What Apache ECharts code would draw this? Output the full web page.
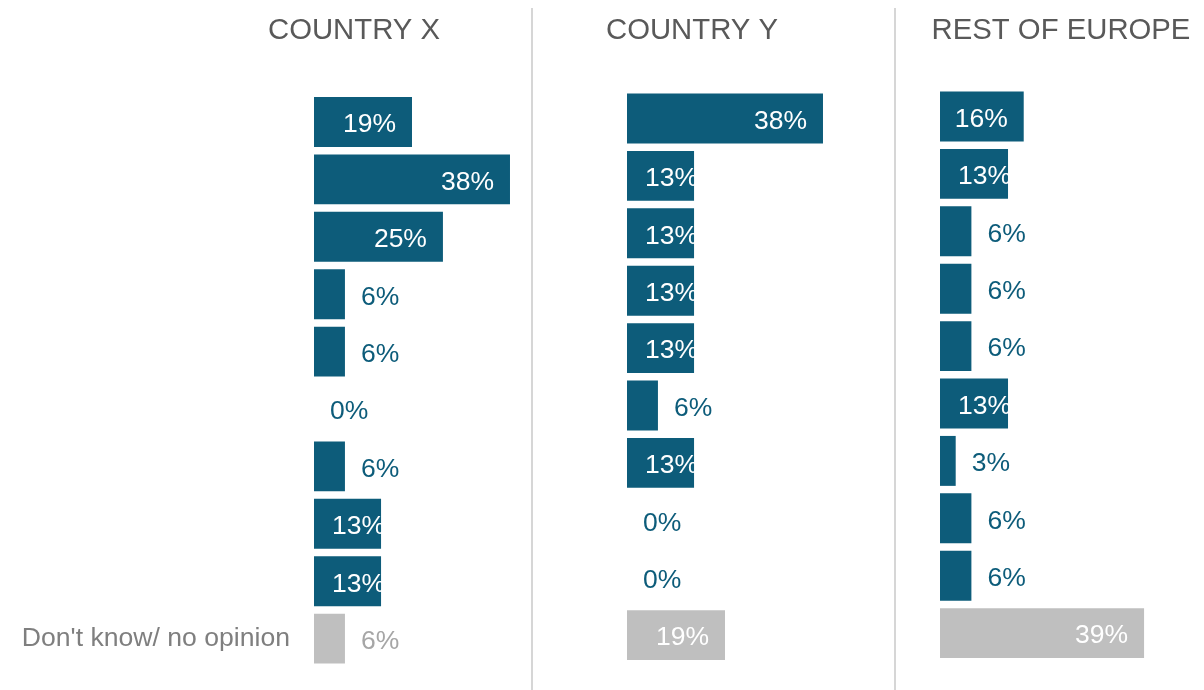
<!DOCTYPE html>
<html>
<head>
<meta charset="utf-8">
<script src="https://cdn.jsdelivr.net/npm/echarts@6/dist/echarts.min.js"></script>
<style>
  html, body { margin: 0; padding: 0; background: #ffffff; }
  #chart { width: 1204px; height: 690px; }
</style>
</head>
<body>
<div id="chart"></div>
<script>
// Answer categories: only the last row carries a visible label
var categories = ['', '', '', '', '', '', '', '', '', "Don't know/ no opinion"];
var panelTitles = ['COUNTRY X', 'COUNTRY Y', 'REST OF EUROPE'];
var countryX = [19, 38, 25, 6, 6, 0, 6, 13, 13, 6];
var countryY = [38, 13, 13, 13, 13, 6, 13, 0, 0, 19];
var restOfEurope = [16, 13, 6, 6, 6, 13, 3, 6, 6, 39];

var TEAL = '#0d5c7a';
var GREY = '#bfbfbf';
var FONT = '"Liberation Sans", Arial, sans-serif';

var panels = [
  { values: countryX, left: 314, width: 206.3, top: 93.3, titleX: 354 },
  { values: countryY, left: 627, width: 206.3, top: 89.8, titleX: 692 },
  { values: restOfEurope, left: 940, width: 209.3, top: 87.8, titleX: 1061 }
];
var ROW_BAND = 57.4;

function buildData(values) {
  return values.map(function (v, i) {
    var isNoOpinion = i === values.length - 1;
    var barColor = isNoOpinion ? GREY : TEAL;
    var label;
    if (v >= 16) {
      label = { position: 'insideRight', distance: 16, color: '#ffffff' };
    } else if (v >= 13) {
      label = { position: 'insideLeft', distance: 18, color: '#ffffff' };
    } else {
      label = { position: 'right', distance: 16, color: isNoOpinion ? '#a6a6a6' : TEAL };
    }
    return { value: v, itemStyle: { color: barColor }, label: label };
  });
}

var grids = [], xAxes = [], yAxes = [], series = [];
panels.forEach(function (p, k) {
  grids.push({ left: p.left, width: p.width, top: p.top, height: ROW_BAND * categories.length });
  xAxes.push({
    type: 'value', gridIndex: k, min: 0, max: 40,
    show: false, splitLine: { show: false }
  });
  yAxes.push({
    type: 'category', gridIndex: k, data: categories, inverse: true,
    axisLine: { show: false }, axisTick: { show: false },
    axisLabel: {
      show: k === 0, fontFamily: FONT, fontSize: 26.6, color: '#7f7f7f', margin: 24
    }
  });
  series.push({
    type: 'bar', xAxisIndex: k, yAxisIndex: k,
    data: buildData(p.values),
    barCategoryGap: '13%',
    label: {
      show: true, fontFamily: FONT, fontSize: 26.5, offset: [0, 3],
      formatter: function (prm) { return prm.value + '%'; }
    },
    silent: true, animation: false
  });
});

var graphics = [];
panels.forEach(function (p, k) {
  graphics.push({
    type: 'text', x: p.titleX, y: 31,
    style: {
      text: panelTitles[k], fill: '#595959', font: '29.3px ' + FONT,
      textAlign: 'center', textVerticalAlign: 'middle'
    }
  });
});
[532, 895].forEach(function (x) {
  graphics.push({
    type: 'line', shape: { x1: x, y1: 8, x2: x, y2: 690 },
    style: { stroke: '#c8c8c8', lineWidth: 1.5 }
  });
});

var chart = echarts.init(document.getElementById('chart'), null, { renderer: 'canvas' });
chart.setOption({
  animation: false,
  backgroundColor: '#ffffff',
  grid: grids,
  xAxis: xAxes,
  yAxis: yAxes,
  series: series,
  graphic: graphics
});
</script>
</body>
</html>
